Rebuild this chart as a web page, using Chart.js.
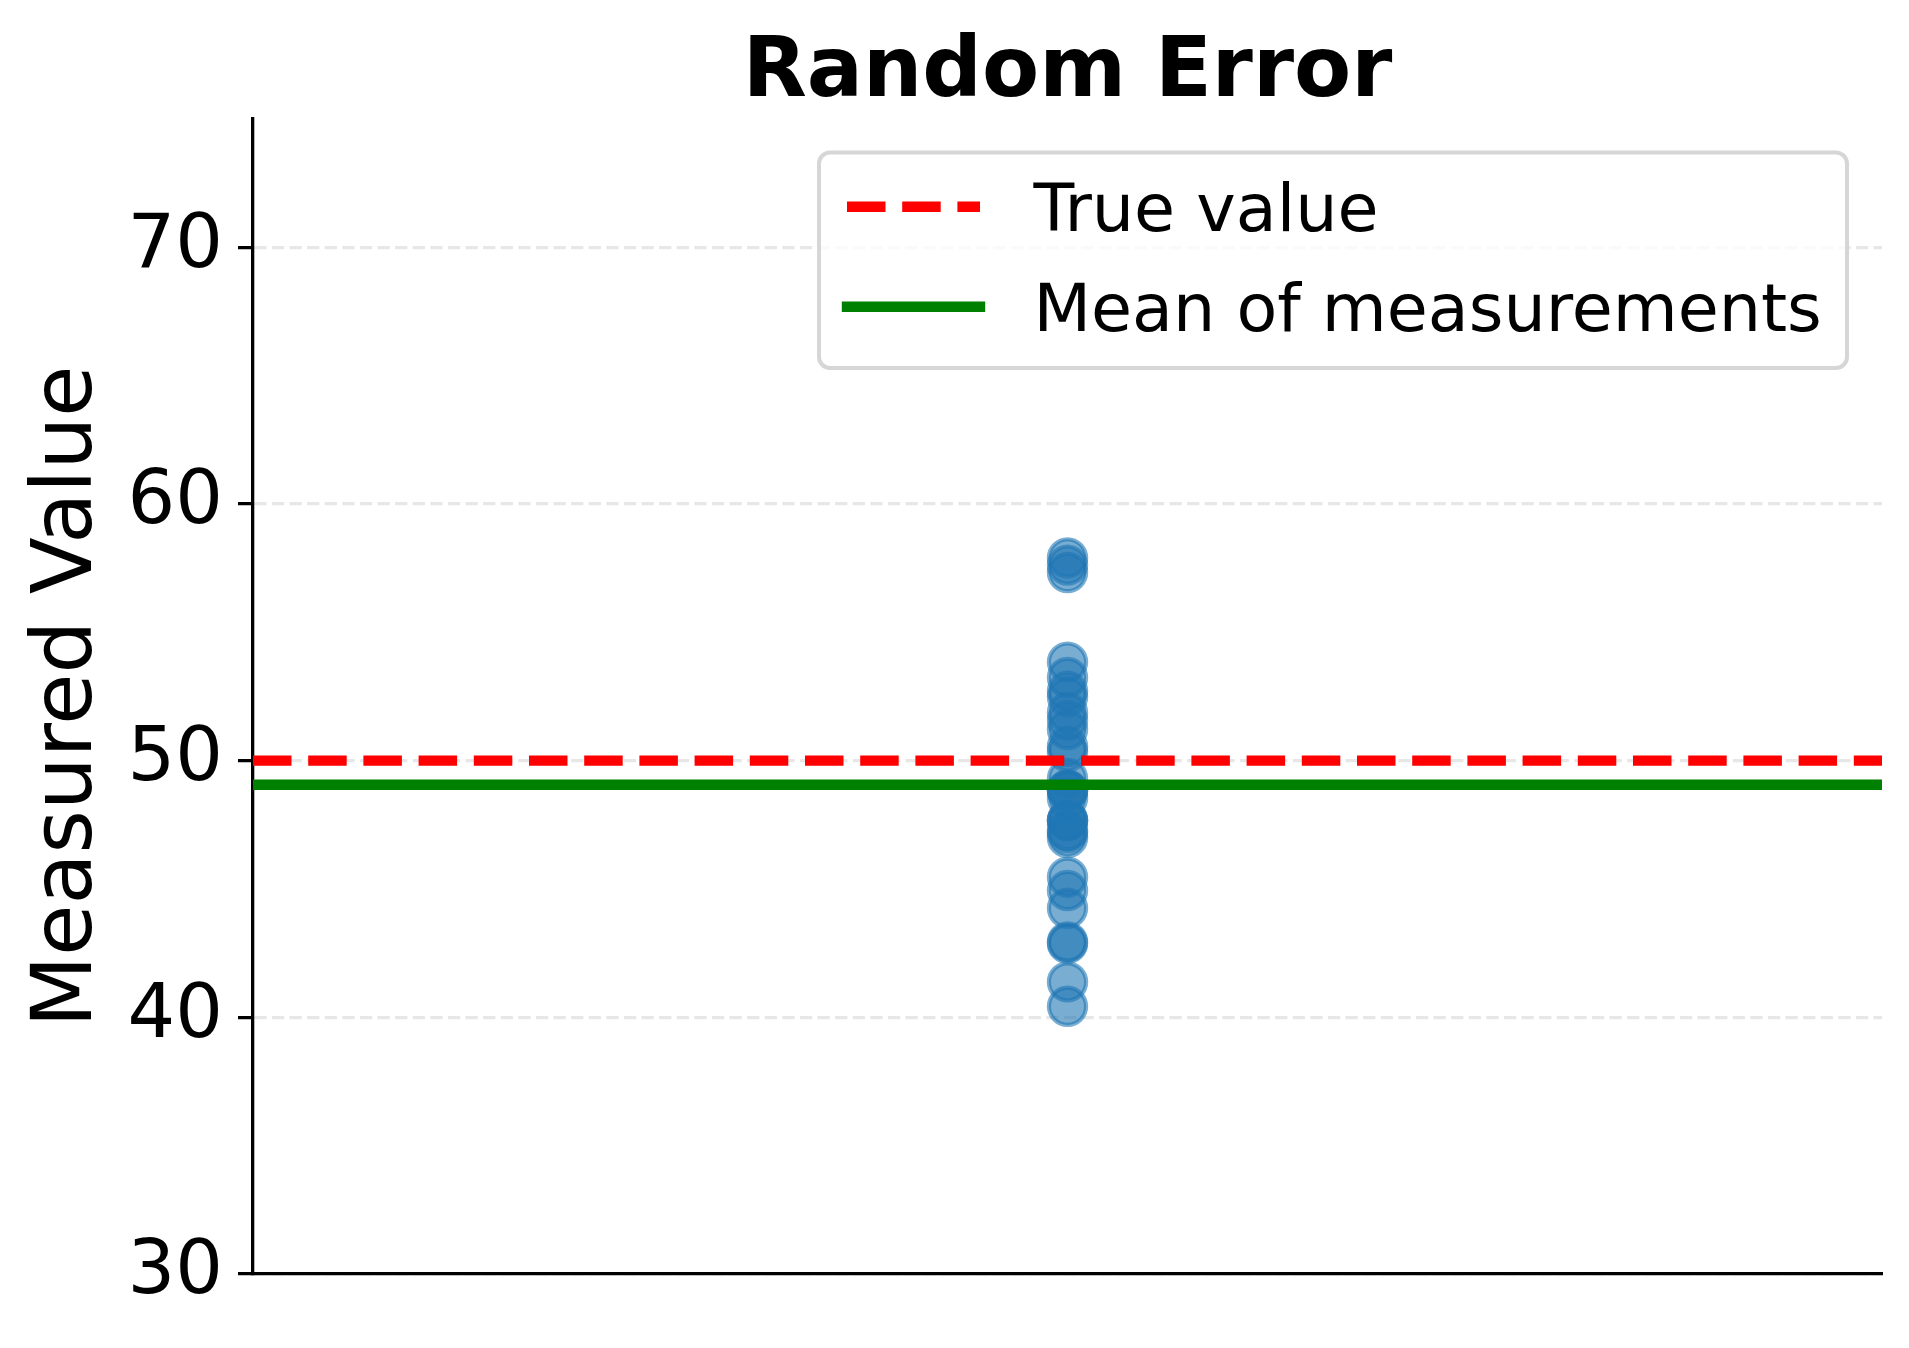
<!DOCTYPE html>
<html>
<head>
<meta charset="utf-8">
<title>Random Error</title>
<script src="https://cdn.jsdelivr.net/npm/chart.js@4.4.1/dist/chart.umd.min.js"></script>
<style>
    html, body { margin: 0; padding: 0; background: #ffffff; }
    #wrap { width: 1909px; height: 1348px; }
</style>
</head>
<body>
<div id="wrap"><canvas id="errorChart" width="1909" height="1348"></canvas></div>
<script>
// values
const measurements = [52.48, 49.31, 53.24, 57.62, 48.83, 48.83, 57.90, 53.84, 47.65, 52.71,
                      47.68, 47.67, 51.21, 40.43, 41.38, 47.19, 44.94, 51.57, 45.46, 42.94,
                      57.33, 48.87, 50.34, 42.88, 47.28, 50.55, 44.25, 51.88, 47.00, 48.54];
const measurementX = 0;
const xRange = [-1, 1];
const trueValue = 50;
const meanValue = 49.06;
const yTicks = [30, 40, 50, 60, 70];
const yRange = [30, 75];
const legendLabels = ['True value', 'Mean of measurements'];

const FONT = "'DejaVu Sans', 'Liberation Sans', sans-serif";

// legend drawn inside the plot, like the matplotlib one
const boxLegend = {
    id: 'boxLegend',
    afterDatasetsDraw(chart) {
        const ctx = chart.ctx;
        const lines = chart.data.datasets.filter(ds => ds.type === 'line');
        ctx.save();
        ctx.beginPath();
        ctx.roundRect(819, 152.5, 1028, 215.5, 11);
        ctx.fillStyle = 'rgba(255,255,255,0.8)';
        ctx.fill();
        ctx.lineWidth = 4;
        ctx.strokeStyle = '#d6d6d6';
        ctx.stroke();

        lines.forEach((ds, i) => {
            const y = 206.7 + i * 100;
            ctx.beginPath();
            ctx.lineWidth = ds.borderWidth;
            ctx.strokeStyle = ds.borderColor;
            ctx.setLineDash(ds.borderDash || []);
            ctx.lineCap = ds.borderDash ? 'butt' : 'square';
            ctx.moveTo(847, y);
            ctx.lineTo(980, y);
            ctx.stroke();
            ctx.setLineDash([]);
            ctx.fillStyle = '#000000';
            ctx.font = '66.7px ' + FONT;
            ctx.textAlign = 'left';
            ctx.textBaseline = 'alphabetic';
            ctx.fillText(ds.label, 1033.5, y + 24.5);
        });
        ctx.restore();
    }
};

const ctx = document.getElementById('errorChart').getContext('2d');
new Chart(ctx, {
    data: {
        datasets: [
            {
                type: 'line',
                label: legendLabels[0],
                data: xRange.map(x => ({ x: x, y: trueValue })),
                borderColor: '#ff0000',
                borderWidth: 10.4,
                borderDash: [38.5, 16.7],
                borderCapStyle: 'butt',
                pointRadius: 0,
                order: 1
            },
            {
                type: 'line',
                label: legendLabels[1],
                data: xRange.map(x => ({ x: x, y: meanValue })),
                borderColor: '#008000',
                borderWidth: 10.4,
                borderCapStyle: 'butt',
                pointRadius: 0,
                order: 2
            },
            {
                type: 'scatter',
                label: 'Measurements',
                data: measurements.map(v => ({ x: measurementX, y: v })),
                backgroundColor: 'rgba(31,119,180,0.6)',
                borderColor: 'rgba(31,119,180,0.6)',
                borderWidth: 4.2,
                pointRadius: 18.6,
                order: 3
            }
        ]
    },
    options: {
        responsive: false,
        devicePixelRatio: 1,
        animation: false,
        events: [],
        layout: { padding: { left: 0, right: 27, top: 0, bottom: 74 } },
        scales: {
            x: {
                type: 'linear',
                min: xRange[0],
                max: xRange[1],
                ticks: { display: false },
                grid: { display: false, drawTicks: false },
                border: { display: true, color: '#000000', width: 3.3 },
                afterFit(scale) { scale.height = 0; }
            },
            y: {
                type: 'linear',
                min: yRange[0],
                max: yRange[1],
                afterBuildTicks(scale) {
                    scale.ticks = yTicks.map(v => ({ value: v }));
                },
                afterFit(scale) { scale.width = 253; },
                ticks: {
                    color: '#000000',
                    padding: 15,
                    font: { family: FONT, size: 75 }
                },
                grid: {
                    color: '#e7e7e7',
                    lineWidth: 3.3,
                    tickLength: 15,
                    tickColor: '#000000',
                    tickWidth: 3.3,
                    tickBorderDash: [1, 0]
                },
                border: { display: true, color: '#000000', width: 3.3, dash: [12.3, 5.3] },
                title: {
                    display: true,
                    text: 'Measured Value',
                    color: '#000000',
                    font: { family: FONT, size: 83.3 },
                    padding: { top: 19.5, bottom: 0 }
                }
            }
        },
        plugins: {
            legend: { display: false },
            tooltip: { enabled: false },
            title: {
                display: true,
                fullSize: false,
                text: 'Random Error',
                color: '#000000',
                font: { family: FONT, size: 83.3, weight: 'bold', lineHeight: 1.0 },
                padding: { top: 33, bottom: 2.7 }
            }
        }
    },
    plugins: [boxLegend]
});
</script>
</body>
</html>
